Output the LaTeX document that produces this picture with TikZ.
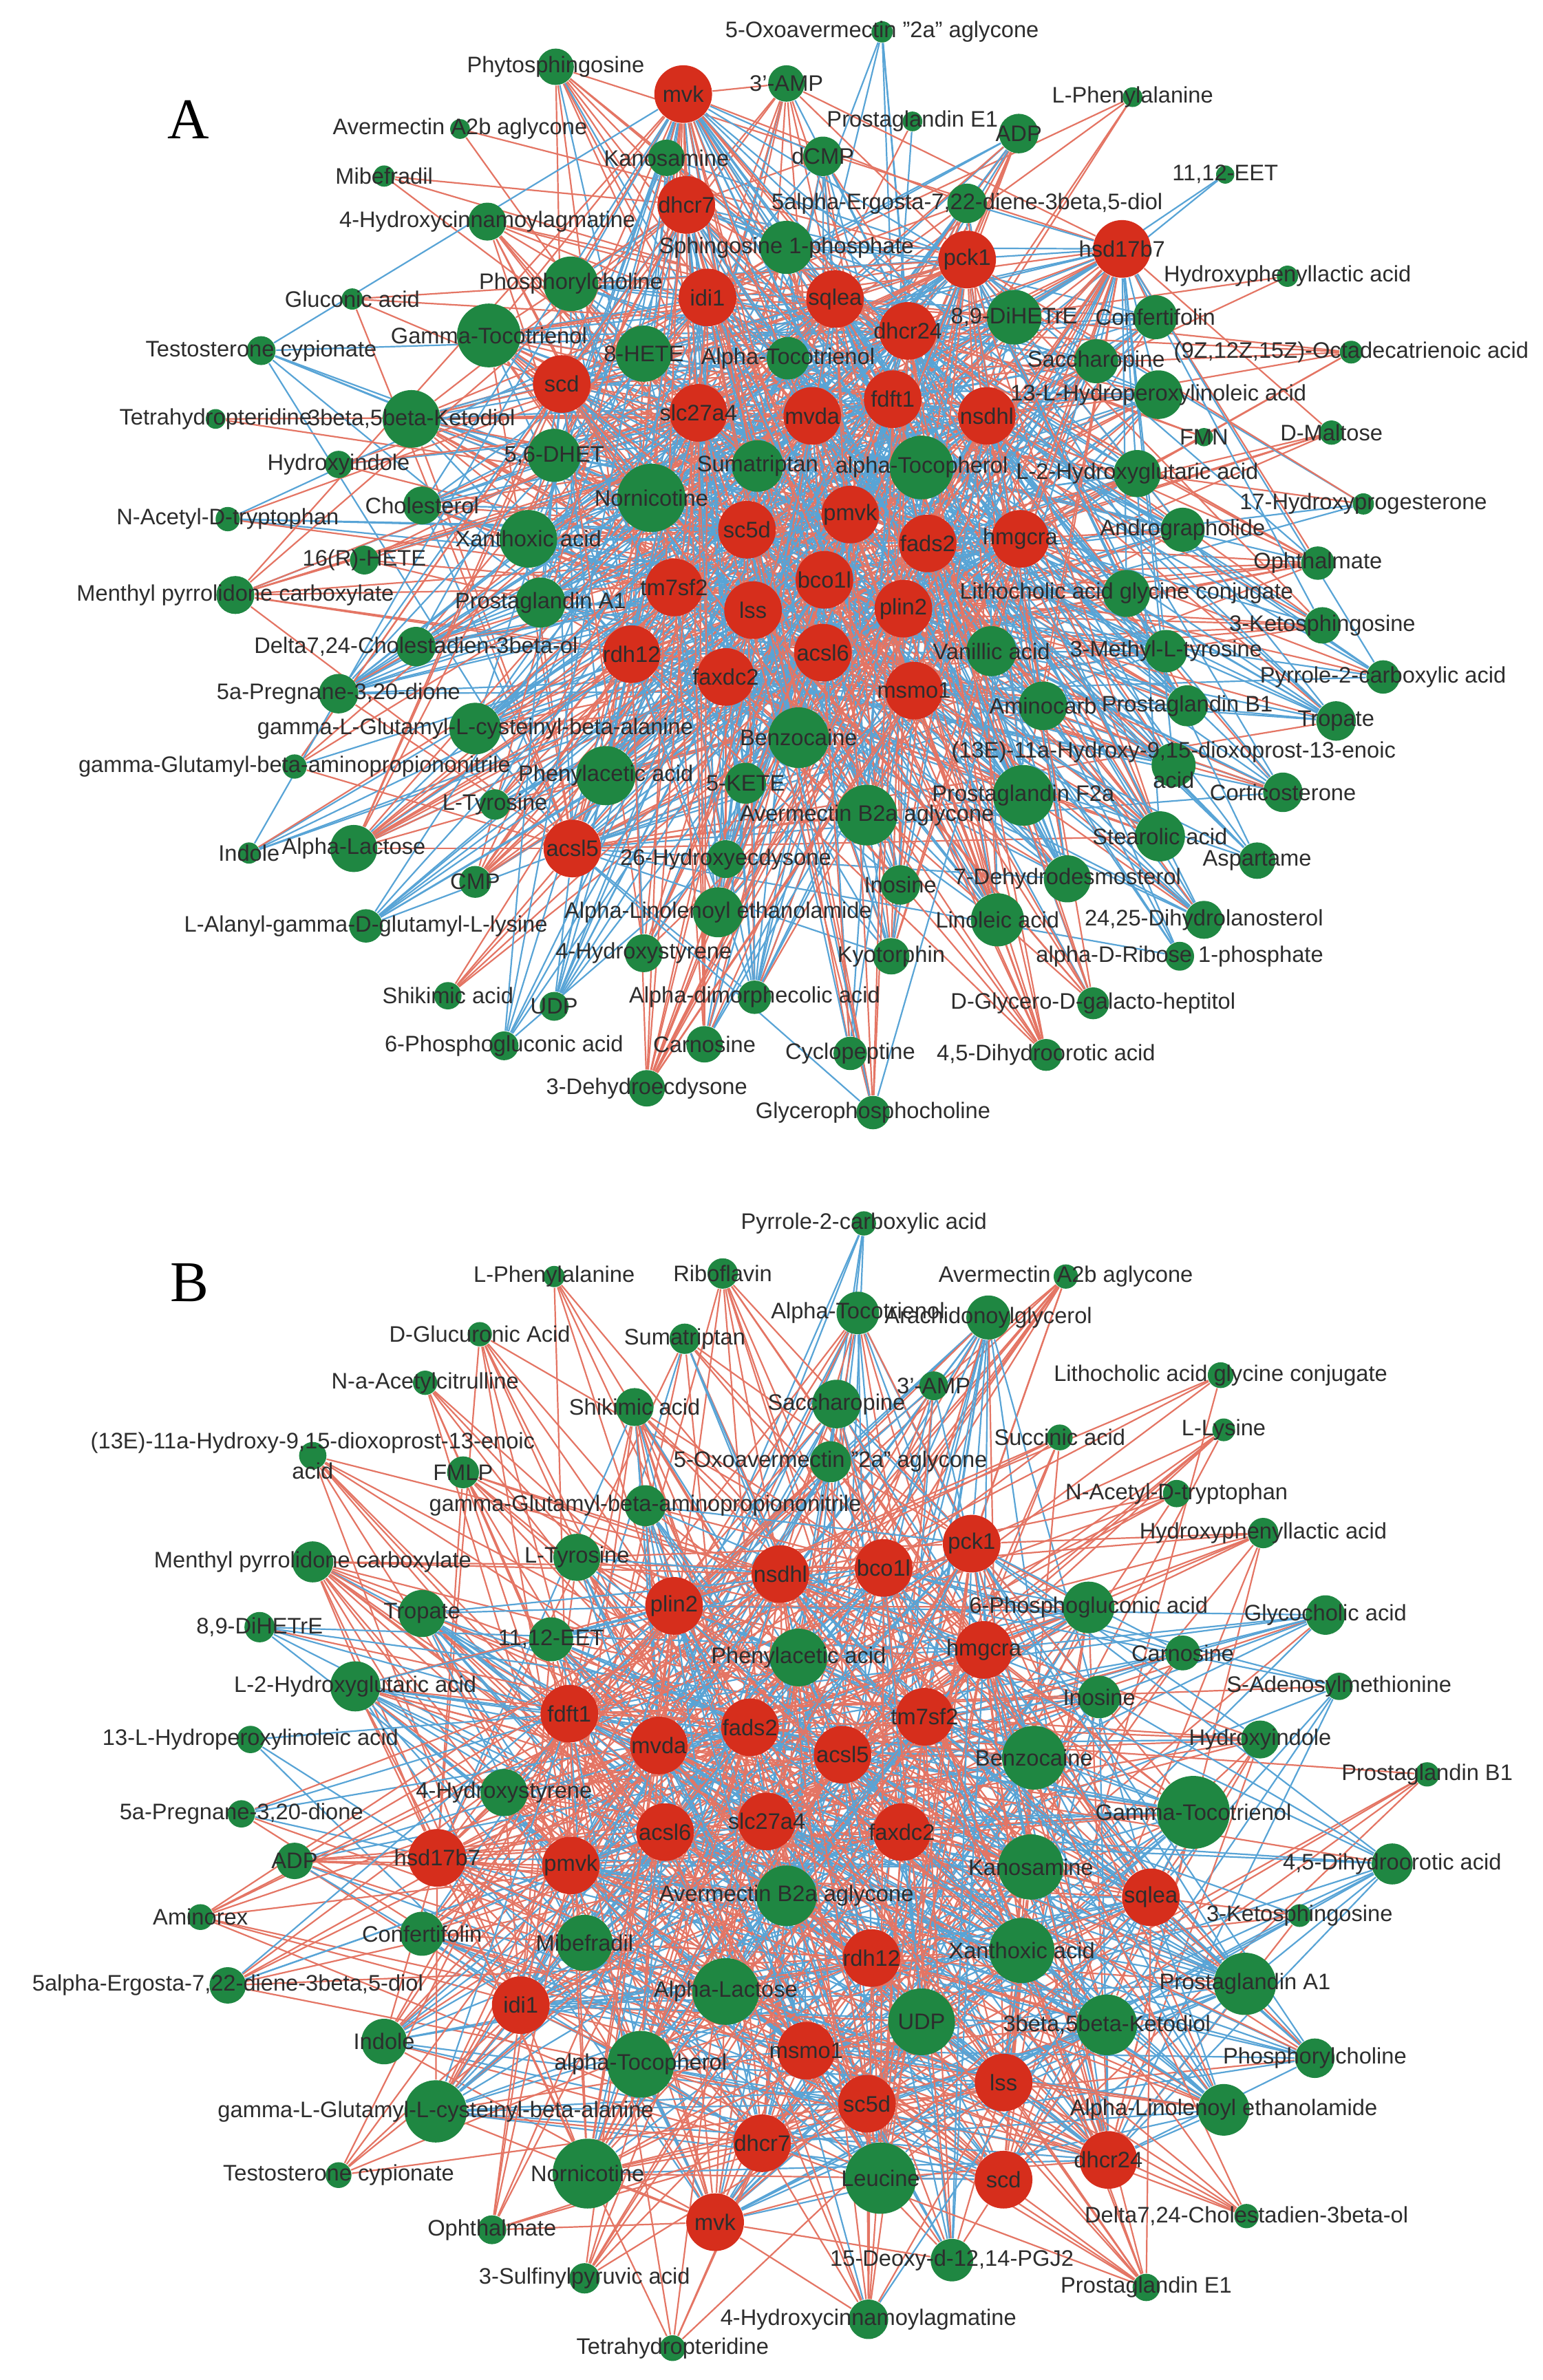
\documentclass[tikz,border=0pt]{standalone}
\usepackage{fontspec}
\setmainfont{Liberation Sans}
\newfontfamily\panelfont{Liberation Serif}
\definecolor{gnode}{RGB}{31,135,66}
\definecolor{rnode}{RGB}{214,46,28}
\definecolor{redge}{RGB}{228,117,100}
\definecolor{bedge}{RGB}{88,164,214}
\definecolor{lbl}{RGB}{45,45,45}
\pgfdeclarelayer{bgl}
\pgfdeclarelayer{edges}
\pgfdeclarelayer{labels}
\pgfsetlayers{bgl,edges,main,labels}
\tikzset{
  gene/.style={circle,fill=rnode,draw=none,inner sep=0pt,minimum size=19pt},
  metab/.style={circle,fill=gnode,draw=none,inner sep=0pt,minimum size=#1},
  lbltext/.style={font=\fontsize{7.4}{10}\selectfont,text=lbl,inner sep=0pt,align=center},
  posedge/.style={draw=redge,line width=0.5pt},
  negedge/.style={draw=bedge,line width=0.5pt},
  panellbl/.style={font=\panelfont\fontsize{19}{19}\selectfont,text=black,inner sep=0pt}
}
% ---------------- panel A data ----------------
\def\redA{mvk/450/62, dhcr7/452/135, idi1/466/196, pck1/637/171, hsd17b7/739/164,
 sqlea/550/197, dhcr24/598/218, scd/370/253, slc27a4/460/272, mvda/535/274,
 fdft1/588/263, nsdhl/650/274, sc5d/492/349, pmvk/560/339, fads2/611/358,
 hmgcra/672/355, tm7sf2/444/387, bco1l/543/382, lss/496/402, plin2/595/401,
 rdh12/416/431, acsl6/542/430, faxdc2/478/446, msmo1/602/455, acsl5/377/559}
\def\greenA{581/21/7/1/{5-Oxoavermectin "2a" aglycone},
366/44/12/0.2/Phytosphingosine,
518/55/12/0.2/3'-AMP,
746/64/6.5/0/L-Phenylalanine,
601/80/6.5/0.5/Prostaglandin E1,
671/88/13/0.5/ADP,
303/85/6.5/0/Avermectin A2b aglycone,
439/104/12/0.6/Kanosamine,
542/103/13/0.7/dCMP,
253/116/7/0/Mibefradil,
807/115/6/1/{11,12-EET},
321/146/12.5/0.1/4-Hydroxycinnamoylagmatine,
637/134/13/0.5/{5alpha-Ergosta-7,22-diene-3beta,5-diol},
518/163/17.5/0.5/Sphingosine 1-phosphate,
376/187/18/0.6/Phosphorylcholine,
232/197/7/0/Gluconic acid,
848/182/7/0/Hydroxyphenyllactic acid,
322/221/21/0.3/Gamma-Tocotrienol,
668/209/18/0.6/{8,9-DiHETrE},
761/209/14.5/0.7/Confertifolin,
172/231/9.5/1/Testosterone cypionate,
424/233/18.5/0.5/8-HETE,
519/236/14/0.5/Alpha-Tocotrienol,
722/238/14.5/0.7/Saccharopine,
890/232/7.5/0/{(9Z,12Z,15Z)-Octadecatrienoic acid},
763/260/16/0.5/13-L-Hydroperoxylinoleic acid,
142/276/6.5/0.2/Tetrahydropteridine,
271/276/19/0.3/{3beta,5beta-Ketodiol},
793/288/6/0/FMN,
877/285/8/0.1/D-Maltose,
223/306/9/0.7/Hydroxyindole,
365/300/17.5/0.5/{5,6-DHET},
499/307/17/0.5/Sumatriptan,
607/308/21/0.6/alpha-Tocopherol,
749/312/15.5/0.4/L-2-Hydroxyglutaric acid,
150/342/8/0.8/N-Acetyl-D-tryptophan,
278/333/12.5/0.7/Cholesterol,
429/328/22.5/0.6/Nornicotine,
898/332/7/0.8/17-Hydroxyprogesterone,
779/349/14.5/0.5/Andrographolide,
348/355/19/0.6/Xanthoxic acid,
240/369/9.5/0.3/16(R)-HETE,
868/371/11/0.3/Ophthalmate,
155/392/12.5/0.1/Menthyl pyrrolidone carboxylate,
356/397/16.5/0.7/Prostaglandin A1,
742/391/15.5/0.6/Lithocholic acid glycine conjugate,
871/412/12/0.4/3-Ketosphingosine,
274/426/13/0.7/{Delta7,24-Cholestadien-3beta-ol},
653/429/16.5/0.6/Vanillic acid,
768/429/14/0.6/3-Methyl-L-tyrosine,
911/446/11/0.8/Pyrrole-2-carboxylic acid,
223/457/13/0.8/{5a-Pregnane-3,20-dione},
687/465/16/0.6/Aminocarb,
782/465/13.5/0.6/Prostaglandin B1,
880/475/13/0.6/Tropate,
313/480/17/0.7/gamma-L-Glutamyl-L-cysteinyl-beta-alanine,
526/486/20/0.6/Benzocaine,
194/505/8/0.1/gamma-Glutamyl-beta-aminopropiononitrile,
399/511/19.5/0.5/Phenylacetic acid,
491/516/13.5/0.6/5-KETE,
773/504/14.5/0.7/{(13E)-11a-Hydroxy-9,15-dioxoprost-13-enoic\\acid},
845/522/13/0.8/Corticosterone,
326/530/10/0.5/L-Tyrosine,
674/524/20/0.6/Prostaglandin F2a,
571/537/20/0.5/Avermectin B2a aglycone,
764/551/16.5/0.3/Stearolic acid,
164/562/7/0.9/Indole,
233/559/15.5/0.4/Alpha-Lactose,
478/566/12.5/0.5/26-Hydroxyecdysone,
828/567/12/0.8/Aspartame,
313/581/10.5/0.3/CMP,
593/583/13/0.5/Inosine,
703/579/15.5/0.7/7-Dehydrodesmosterol,
473/601/16.5/0.5/Alpha-Linolenoyl ethanolamide,
657/606/17.5/0.5/Linoleic acid,
793/606/12.5/0.7/{24,25-Dihydrolanosterol},
241/610/11/0.9/L-Alanyl-gamma-D-glutamyl-L-lysine,
424/628/12.5/0.5/4-Hydroxystyrene,
587/630/12/0.6/Kyotorphin,
777/630/9.5/0.8/alpha-D-Ribose 1-phosphate,
295/656/9/0/Shikimic acid,
365/663/9.5/1/UDP,
497/657/11/0.6/Alpha-dimorphecolic acid,
720/661/10.5/0.1/D-Glycero-D-galacto-heptitol,
332/689/9.5/1/6-Phosphogluconic acid,
464/688/12/0.5/Carnosine,
560/694/11/0.7/Cyclopeptine,
689/695/10.5/0/{4,5-Dihydroorotic acid},
426/717/12/0.1/3-Dehydroecdysone,
575/733/11/0.3/Glycerophosphocholine}
% ---------------- panel B data ----------------
\def\redB{pck1/640/1017, bco1l/582/1033, nsdhl/514/1037, plin2/444/1058, hmgcra/648/1087,
 fdft1/375/1129, mvda/434/1150, fads2/494/1138, acsl5/555/1156, tm7sf2/609/1131,
 acsl6/438/1207, slc27a4/505/1200, faxdc2/594/1207, hsd17b7/288/1224, pmvk/376/1229,
 sqlea/758/1250, rdh12/574/1290, idi1/343/1321, msmo1/531/1351, lss/661/1372,
 sc5d/571/1386, dhcr7/502/1412, dhcr24/730/1423, scd/661/1436, mvk/471/1464}
\def\greenB{569/806/8/1/Pyrrole-2-carboxylic acid,
365/841/7/0/L-Phenylalanine,
476/839/10/0.1/Riboflavin,
702/841/8/0/Avermectin A2b aglycone,
565/865/14/0.4/Alpha-Tocotrienol,
651/868/14.5/0.8/Arachidonoylglycerol,
316/879/8/0/D-Glucuronic Acid,
451/882/10/0.4/Sumatriptan,
804/906/8.5/0/Lithocholic acid glycine conjugate,
280/911/8/0/N-a-Acetylcitrulline,
615/913/9.5/0.5/3'-AMP,
418/927/12.5/0.6/Shikimic acid,
551/925/16/0.5/Saccharopine,
698/947/8.5/0/Succinic acid,
806/942/7.5/0/L-Lysine,
206/959/9/0/{(13E)-11a-Hydroxy-9,15-dioxoprost-13-enoic\\acid},
305/970/10.5/0/FMLP,
547/963/13.5/0.5/{5-Oxoavermectin "2a" aglycone},
775/984/9/0/N-Acetyl-D-tryptophan,
425/992/13.5/0.5/gamma-Glutamyl-beta-aminopropiononitrile,
832/1010/10/0/Hydroxyphenyllactic acid,
206/1029/13.5/0.1/Menthyl pyrrolidone carboxylate,
380/1026/15.5/0.4/L-Tyrosine,
717/1059/17/0.4/6-Phosphogluconic acid,
873/1064/13/0.8/Glycocholic acid,
278/1063/15.5/0.6/Tropate,
171/1072/10/0.6/{8,9-DiHETrE},
363/1080/14.5/0.5/{11,12-EET},
526/1092/19/0.5/Phenylacetic acid,
779/1089/11.5/0.5/Carnosine,
234/1111/16.5/0.6/L-2-Hydroxyglutaric acid,
882/1111/9/0.6/S-Adenosylmethionine,
724/1118/14/0.5/Inosine,
165/1146/9/0.7/13-L-Hydroperoxylinoleic acid,
830/1146/12.5/0.4/Hydroxyindole,
681/1158/21/0.5/Benzocaine,
940/1169/8/0.1/Prostaglandin B1,
332/1181/15.5/0.4/4-Hydroxystyrene,
159/1195/9/0.3/{5a-Pregnane-3,20-dione},
786/1194/24/0.7/Gamma-Tocotrienol,
194/1226/12/0.6/ADP,
917/1228/13.5/0.9/{4,5-Dihydroorotic acid},
679/1230/21.5/0.5/Kanosamine,
518/1249/20/0.5/Avermectin B2a aglycone,
132/1263/8.5/0/Aminorex,
856/1262/7.5/0.2/3-Ketosphingosine,
278/1274/14.5/0.4/Confertifolin,
385/1280/18.5/0.5/Mibefradil,
673/1285/21.5/0.5/Xanthoxic acid,
150/1308/12/0.3/{5alpha-Ergosta-7,22-diene-3beta,5-diol},
820/1307/20.5/0.8/Prostaglandin A1,
478/1312/22/0.5/Alpha-Lactose,
607/1332/22/0.5/UDP,
729/1334/20/0.5/{3beta,5beta-Ketodiol},
253/1345/15/0.3/Indole,
866/1356/13/0.8/Phosphorylcholine,
422/1360/22/0.4/alpha-Tocopherol,
287/1391/20.5/0.6/gamma-L-Glutamyl-L-cysteinyl-beta-alanine,
806/1390/17/0.7/Alpha-Linolenoyl ethanolamide,
223/1433/8.5/0/Testosterone cypionate,
387/1432/23/0.3/Nornicotine,
580/1435/23.5/0.5/Leucine,
821/1460/8/0.1/{Delta7,24-Cholestadien-3beta-ol},
324/1469/9.5/0/Ophthalmate,
627/1489/14/0.4/{15-Deoxy-d-12,14-PGJ2},
755/1507/9/0/Prostaglandin E1,
385/1501/10/0/3-Sulfinylpyruvic acid,
572/1528/13/0.1/4-Hydroxycinnamoylagmatine,
443/1547/8.5/0/Tetrahydropteridine}
% ---------------- drawing macro ----------------
\newcommand\panelnet[3]{%
  \foreach \g/\gx/\gy in #2 {
    \node[gene] (#1-\g) at (\gx,\gy) {};
    \begin{pgfonlayer}{labels}\node[lbltext] (#1-\g-t) at (\gx,\gy) {\g};\end{pgfonlayer}
  }
  \foreach \gx/\gy/\gr/\gb/\gt [count=\gi] in #3 {
    \node[metab=\gr pt] (#1-g\gi) at (\gx,\gy) {};
    \pgfmathsetmacro\gp{max(0.06,min(1,(\gr-5)/16))}
    \pgfmathrandominteger\gz{1}{25}
    \begin{pgfonlayer}{edges}
    \foreach \h/\hx/\hy [count=\j] in #2 {
      \pgfmathsetmacro\ua{rnd}
      \pgfmathsetmacro\ub{rnd}
      \pgfmathtruncatemacro\ok{or(\ua<\gp,\j==\gz)}
      \ifnum\ok=1
        \pgfmathtruncatemacro\isb{\ub<\gb}
        \ifnum\isb=1 \draw[negedge] (#1-g\gi) -- (#1-\h);
        \else \draw[posedge] (#1-g\gi) -- (#1-\h); \fi
      \fi
    }
    \end{pgfonlayer}
    \begin{pgfonlayer}{labels}\node[lbltext] (#1-g\gi-t) at (\gx,\gy) {\gt};\end{pgfonlayer}
  }
}
\begin{document}
\begin{tikzpicture}[x=0.5pt,y=-0.5pt]
\begin{pgfonlayer}{bgl}
\fill[white] (0,0) rectangle (1016,1568);
\end{pgfonlayer}
\useasboundingbox (0,0) rectangle (1016,1568);
\pgfmathsetseed{11}
\panelnet{A}{\redA}{\greenA}
\pgfmathsetseed{23}
\panelnet{B}{\redB}{\greenB}
\node[panellbl] (labA) at (124,79) {A};
\node[panellbl] (labB) at (125,845) {B};
\end{tikzpicture}
\end{document}
